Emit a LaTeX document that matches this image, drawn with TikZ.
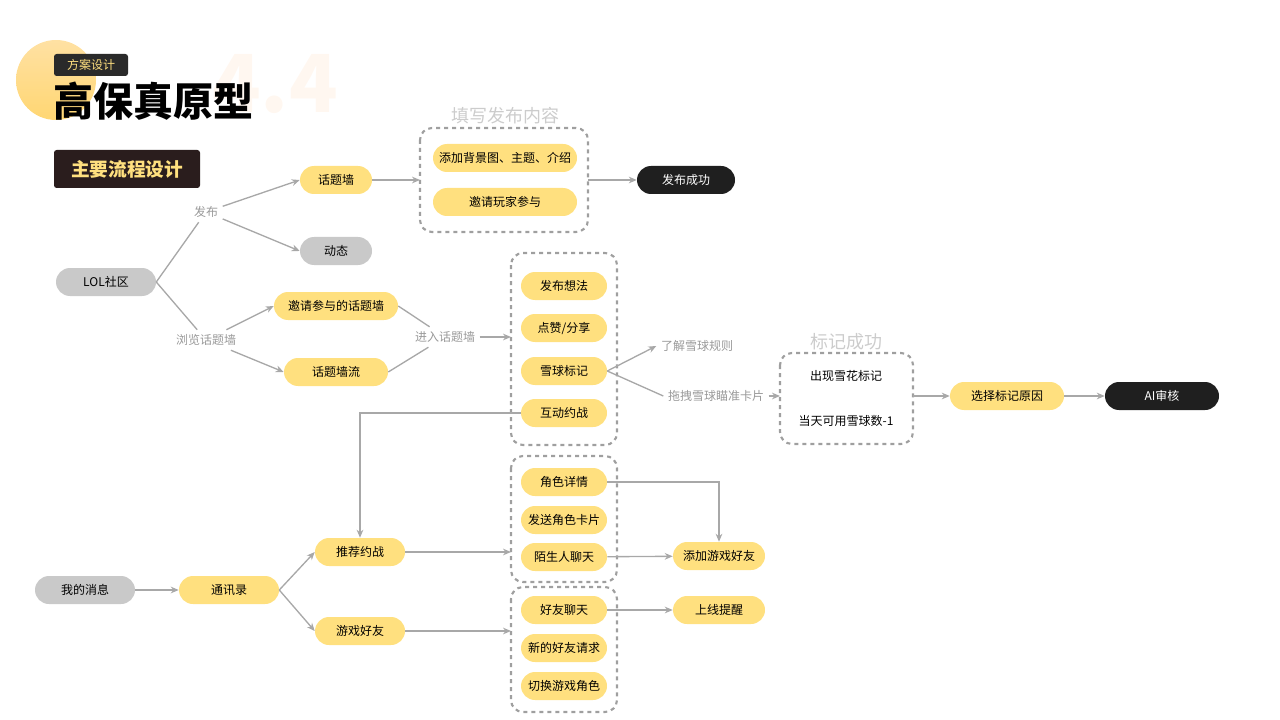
\documentclass[tikz,border=0pt]{standalone}
\usepackage{fontspec}
\setmainfont{Noto Sans CJK SC}
\usetikzlibrary{arrows.meta}
\definecolor{yel}{HTML}{FFE07F}
\definecolor{gry}{HTML}{C9C9C9}
\definecolor{blk}{HTML}{1F1F1F}
\definecolor{ln}{HTML}{A8A8A8}
\tikzset{
 base/.style={rounded corners=14*0.75pt, minimum height=28*0.75pt, minimum width=#1*0.75pt, inner sep=0pt, font=\fontsize{9}{11}\selectfont, text=black},
 ypill/.style={base=#1, fill=yel},
 gpill/.style={base=#1, fill=gry},
 bpill/.style={base=#1, fill=blk, text=white},
 dbox/.style={draw=gray!75, dashed, line width=1.6pt, rounded corners=9pt},
 lab/.style={font=\fontsize{9}{10}\selectfont, text=gray!80},
 ttl/.style={font=\fontsize{13.5}{15}\selectfont, text=gray!40},
 arr/.style={draw=ln, line width=1pt, -{Stealth[length=6pt,width=5pt]}},
 ln/.style={draw=ln, line width=1pt},
}
\begin{document}
\begin{tikzpicture}[x=0.75pt,y=-0.75pt]
\useasboundingbox (0,0) rectangle (1280,720);
% header
\shade[top color=yel!80!orange!60, bottom color=yel!90!orange] (56,80) circle (40);
\node[font=\fontsize{60}{62}\selectfont\bfseries, text=orange!6] at (275,84) {4.4};
\node[fill=blk!95, rounded corners=2pt, minimum width=74*0.75pt, minimum height=22*0.75pt, inner sep=0pt, text=yel, font=\fontsize{9}{10}\selectfont] (fa) at (91,65) {方案设计};
\node[font=\fontsize{30}{32}\selectfont\bfseries, anchor=west, inner sep=0pt] (gb) at (53,101) {高保真原型};
\node[fill=blk!95!red, rounded corners=2pt, minimum width=146*0.75pt, minimum height=38*0.75pt, inner sep=0pt, text=yel, font=\fontsize{14}{16}\selectfont\bfseries] (zy) at (127,169) {主要流程设计};

% dashed boxes
\draw[dbox] (420,128) rectangle (588,232);
\draw[dbox] (511,253) rectangle (617,445);
\draw[dbox] (780,353) rectangle (913,444);
\draw[dbox] (511,456) rectangle (617,582);
\draw[dbox] (511,587) rectangle (617,712);
\coordinate (b1l) at (420,180); \coordinate (b1r) at (588,180);
\coordinate (b2l) at (511,337);
\coordinate (b3l) at (780,396); \coordinate (b3r) at (913,396);
\coordinate (b4l) at (511,552); \coordinate (b5l) at (511,631);
\node[ttl] (t1) at (505,116) {填写发布内容};
\node[ttl] (t3) at (846,342) {标记成功};

% nodes
\node[gpill=100] (lol) at (106,282) {LOL社区};
\node[lab] (fb) at (206,212) {发布};
\node[lab] (ll) at (206,340) {浏览话题墙};
\node[ypill=72] (htq) at (336,180) {话题墙};
\node[gpill=72] (dt) at (336,251) {动态};
\node[ypill=124] (yq) at (336,306) {邀请参与的话题墙};
\node[ypill=104] (htl) at (336,372) {话题墙流};
\node[lab] (jr) at (445,337) {进入话题墙};
\node[ypill=144] (tj) at (505,158) {添加背景图、主题、介绍};
\node[ypill=144] (yw) at (505,202) {邀请玩家参与};
\node[bpill=98] (fbcg) at (686,180) {发布成功};
\node[ypill=86] (fx) at (564,286) {发布想法};
\node[ypill=86] (dz) at (564,328) {点赞/分享};
\node[ypill=86] (xq) at (564,371) {雪球标记};
\node[ypill=86] (hd) at (564,413) {互动约战};
\node[lab] (lj) at (697,346) {了解雪球规则};
\node[lab] (tz) at (716,396) {拖拽雪球瞄准卡片};
\node[font=\fontsize{9}{11}\selectfont] (cx) at (846,376) {出现雪花标记};
\node[font=\fontsize{9}{11}\selectfont] (dt1) at (846,421) {当天可用雪球数-1};
\node[ypill=114] (xz) at (1007,396) {选择标记原因};
\node[bpill=114] (ai) at (1162,396) {AI审核};
\node[ypill=86] (js) at (564,482) {角色详情};
\node[ypill=86] (fs) at (564,520) {发送角色卡片};
\node[ypill=86] (ms) at (564,557) {陌生人聊天};
\node[ypill=92] (tjhy) at (719,556) {添加游戏好友};
\node[ypill=86] (hl) at (564,610) {好友聊天};
\node[ypill=86] (xd) at (564,648) {新的好友请求};
\node[ypill=86] (qh) at (564,686) {切换游戏角色};
\node[ypill=92] (sx) at (719,610) {上线提醒};
\node[gpill=100] (wd) at (85,590) {我的消息};
\node[ypill=100] (tx) at (229,590) {通讯录};
\node[ypill=90] (tjz) at (360,552) {推荐约战};
\node[ypill=90] (yx) at (360,631) {游戏好友};

% connectors
\draw[ln] (lol.east) -- (fb);
\draw[arr] (fb) -- (htq.west);
\draw[arr] (fb) -- (dt.west);
\draw[ln] (lol.east) -- (ll);
\draw[arr] (ll) -- (yq.west);
\draw[arr] (ll) -- (htl.west);
\draw[ln] (yq.east) -- (jr);
\draw[ln] (htl.east) -- (jr);
\draw[arr] (jr) -- (b2l);
\draw[arr] (htq) -- (b1l);
\draw[arr] (b1r) -- (fbcg);
\draw[arr] (xq.east) -- (lj.west);
\draw[ln] (xq.east) -- (tz.west);
\draw[arr] (tz.east) -- (b3l);
\draw[arr] (b3r) -- (xz);
\draw[arr] (xz) -- (ai);
\draw[arr] (hd.west) -- (360,413) -- (tjz.north);
\draw[arr] (js.east) -- (719,482) -- (tjhy.north);
\draw[arr] (ms) -- (tjhy);
\draw[arr] (hl) -- (sx);
\draw[arr] (wd) -- (tx);
\draw[arr] (tx.east) -- (tjz.west);
\draw[arr] (tx.east) -- (yx.west);
\draw[arr] (tjz) -- (b4l);
\draw[arr] (yx) -- (b5l);
\end{tikzpicture}
\end{document}
